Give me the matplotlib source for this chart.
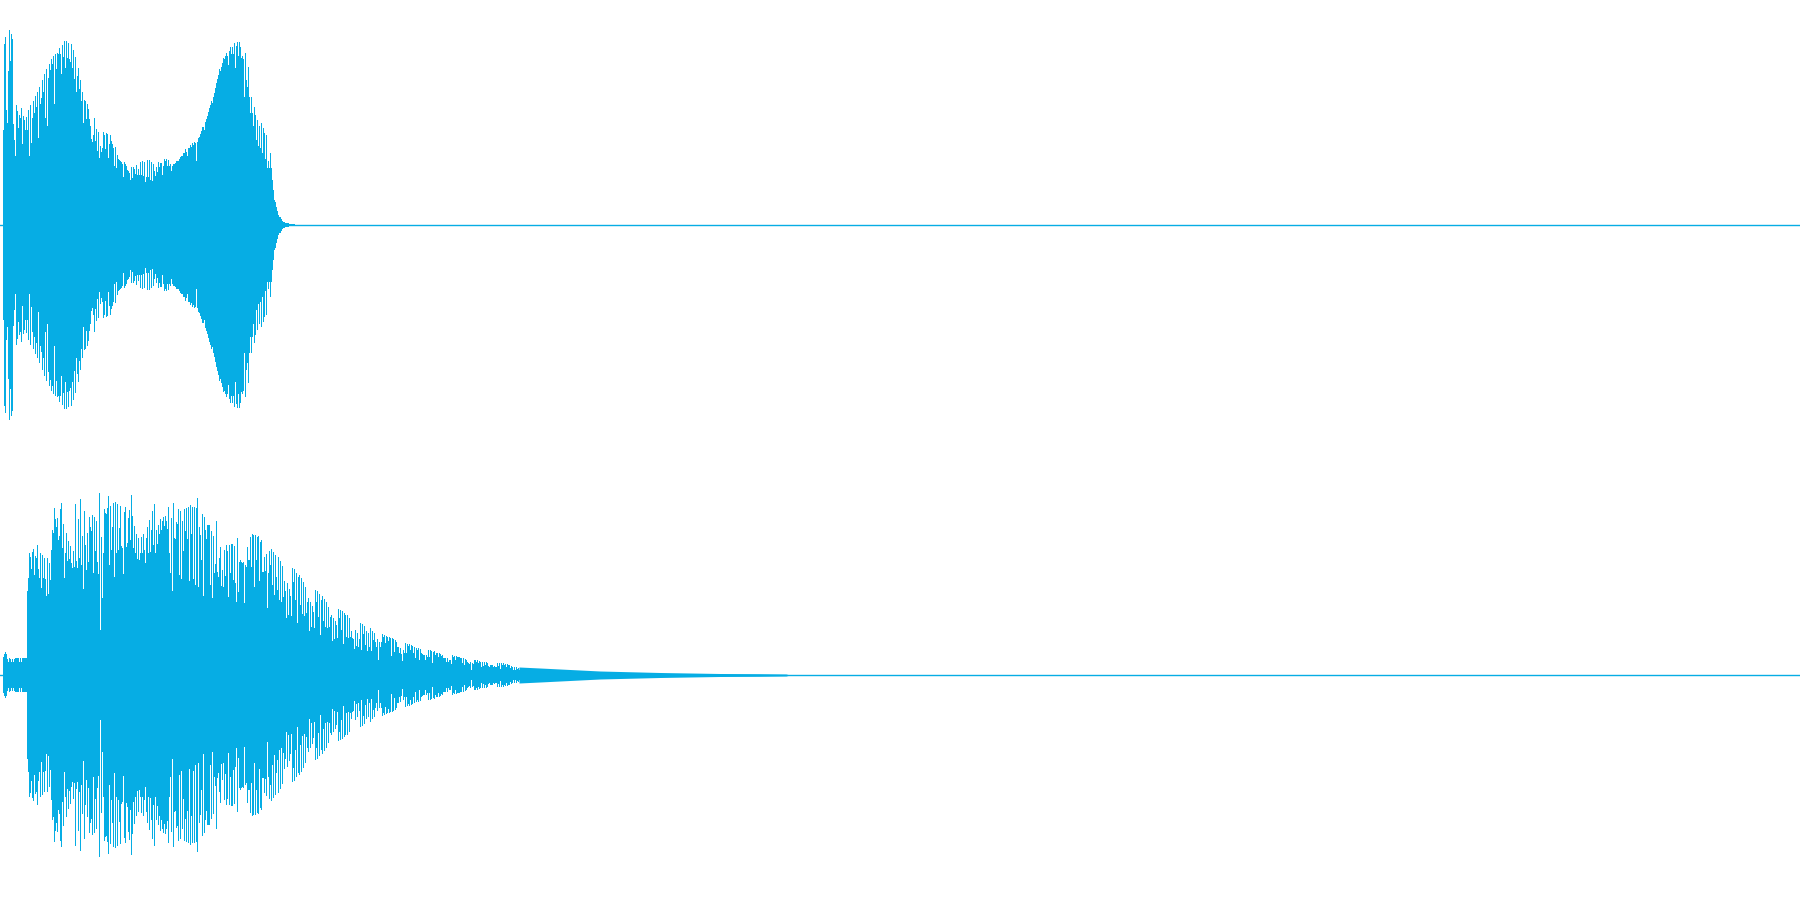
import numpy as np
import matplotlib
matplotlib.use("Agg")
import matplotlib.pyplot as plt

WAVE_COLOR = "#06ade4"

# ---- Channel 1 (left): per-column peak amplitude, starting at column 3 ----
ch1_start = 3
ch1_peaks = [
    95, 181, 188, 115, 102, 154, 195, 164, 191, 186,
    101, 85, 69, 120, 114, 97, 110, 107, 117, 81,
    109, 105, 95, 108, 95, 115, 69, 120, 82, 107,
    124, 112, 129, 118, 133, 87, 138, 121, 127, 145,
    133, 151, 107, 156, 99, 147, 161, 155, 166, 161,
    169, 121, 171, 156, 172, 171, 177, 171, 151, 180,
    168, 184, 157, 184, 167, 182, 166, 163, 181, 157,
    175, 146, 168, 133, 149, 157, 136, 145, 124, 133,
    102, 125, 124, 106, 121, 116,
    106, 99, 86, 83, 90, 107, 84, 96, 74, 93,
    67, 79, 73, 77, 93, 90, 76, 92, 91, 67,
    81, 90, 84, 81, 77, 59, 78, 57, 70, 66,
    65, 64, 63, 61, 48, 63, 61, 59, 55, 54,
    52, 45, 58, 47, 58, 56, 51, 60, 50, 56,
    50, 63, 50, 64, 49, 63, 43, 48, 65, 48,
    65, 45, 63, 44, 61, 54, 49, 58, 53, 63,
    58, 62, 62, 50, 59, 66, 64, 66, 59, 65,
    59, 61, 54, 59, 61, 61, 62, 64, 64, 64,
    66, 68, 69, 69, 72, 72, 76, 73, 69, 77,
    77, 80, 78, 82, 80, 83, 82, 64, 83, 87,
    88, 91, 94, 98, 98, 95, 103, 106, 109, 113,
    117, 120, 124, 122, 128, 132, 137, 142, 146, 150,
    156, 154, 158, 162, 167, 166, 169, 172, 169, 160,
    174, 178, 171, 178, 171, 182, 157, 179, 183, 169,
    183, 178, 167, 169, 166, 128, 172, 145, 138, 158,
    128, 112, 128, 112, 99, 118, 110, 85, 105, 79,
    99, 77, 102, 72, 97, 92, 66, 90, 57, 64,
    57, 72, 57, 45, 35, 25, 23, 18, 14, 10,
    8, 8, 6, 4, 3, 3, 2, 2, 2, 2,
    1, 1, 1, 1, 1, 1,
]

# ---- Channel 2 (right): pre-attack, body, then decaying tail ----
ch2_pre_start = 3
ch2_pre_peaks = [18, 21, 23, 21, 16, 13, 17, 16, 13, 16, 13, 16,
                 17, 17, 17, 17, 13, 17, 13, 17, 17, 17, 17, 17]

ch2_body_start = 27
ch2_body_peaks = [
    84, 97, 122, 118, 106, 123, 126, 100, 119, 117, 130, 106, 97, 122, 87, 120, 97, 117, 96, 79,
    117, 81, 112, 95, 125, 145, 142, 167, 156, 148, 157, 135, 139, 166, 172, 127, 151, 97, 122, 142,
    114, 134, 116, 129, 112, 107, 124, 108, 171, 114, 107, 156, 117, 176, 110, 139, 86, 164, 130, 105,
    142, 113, 158, 148, 144, 160, 102, 158, 124, 154, 113, 101, 182, 45, 138, 77, 122, 166, 162, 161,
    167, 179, 110, 169, 125, 148, 172, 98, 173, 122, 171, 125, 147, 169, 129, 127, 101, 163, 168, 128,
    132, 157, 165, 135, 180, 159, 127, 149, 122, 141, 116, 137, 115, 122, 138, 122, 141, 125, 112, 137,
    148, 122, 155, 123, 145, 164, 130, 171, 122, 145, 131, 150, 141, 156, 145, 154, 158, 149, 159, 154,
    146, 168, 122, 102, 157, 84, 172, 137, 136, 153, 151, 166, 100, 164, 96, 154, 124, 166, 144, 167,
    136, 168, 94, 170, 141, 168, 96, 168, 90, 167, 177, 88, 148, 140, 115, 161, 79, 158, 145, 136,
    150, 150, 150, 90, 144, 77, 139, 102, 111, 154, 103, 98, 117, 128, 89, 105, 88, 125, 99, 130,
    124, 78, 130, 102, 131, 131, 95, 129, 92, 73, 137, 83, 113, 115, 113, 112, 113, 72, 110, 108,
    128, 115, 115, 138, 108, 141, 140, 88, 140, 115, 138, 139, 94, 133,
    135, 103, 103, 118, 104, 121, 67, 102, 124, 110, 126, 90, 123, 80, 120, 98, 85, 118, 75, 114,
    73, 109, 78, 94, 84, 57, 92, 60, 86, 79, 59, 107, 93, 106, 75, 102, 52, 98, 100, 70,
    97, 61, 93, 59, 88, 62, 73, 77, 44, 73, 48, 69, 63, 47, 85, 73, 84, 58, 81, 40,
    75, 79, 54, 76, 48, 73, 47, 68, 48, 58, 60, 34, 57, 36, 54, 50, 37, 66, 57, 65,
    45, 64, 31, 62, 60, 38, 60, 37, 57, 38, 44, 37, 36, 26, 45, 29, 42, 28, 36, 52,
    25, 51, 41, 49, 30, 44, 24, 42, 28, 47, 24, 44, 35, 42, 33, 28, 36, 15, 33, 28,
    33, 41, 38, 40, 32, 39, 38, 34, 38, 37, 19, 37, 36, 23, 35, 33, 28, 28, 22, 27,
    21, 14, 25, 22, 32, 22, 31, 29, 31, 25, 30, 29, 22, 28, 17, 27, 25, 27, 15, 26,
    22, 21, 20, 20, 15, 20, 18, 25, 18, 25, 24, 12, 23, 24, 20, 22, 22, 18, 22, 21,
    19, 20, 17, 17, 17, 13, 17, 13, 15, 15, 11, 20, 18, 19, 15, 19, 18, 18, 18, 17,
    17, 12, 17, 10, 16, 15, 13, 12, 11, 13, 5, 12, 11, 15, 15, 13, 15, 12, 14, 13,
    8, 13, 9, 13, 10, 13, 12, 9, 8, 10, 10, 10, 8, 9, 8, 8, 12, 9, 12, 6,
    12, 10, 12, 10, 11, 8, 11, 10, 10, 7, 9, 8, 5, 8, 5, 8, 6, 7, 5,
]

ch2_tail_x = [519, 540, 560, 580, 600, 620, 640, 660, 690, 720, 760, 786, 790]
ch2_tail_amp = [8, 7, 6, 5, 4, 3.5, 3, 2.5, 2, 1.5, 1.3, 1, 0]

TOTAL_COLS = 1800
HALF = 225


def draw_columns(ax, start, peaks):
    peaks = np.asarray(peaks, dtype=float)
    x = start + np.arange(len(peaks))
    ax.bar(x, 2 * peaks, bottom=-peaks, width=1.0, align="edge",
           color=WAVE_COLOR, linewidth=0, antialiased=False)


fig = plt.figure(figsize=(18, 9), dpi=100)
fig.patch.set_facecolor("white")

ax1 = fig.add_axes([0, 0.5, 1, 0.5])
ax2 = fig.add_axes([0, 0.0, 1, 0.5])

for ax in (ax1, ax2):
    ax.set_xlim(0, TOTAL_COLS)
    ax.set_ylim(-HALF, HALF)
    ax.axis("off")
    ax.axhline(0, color=WAVE_COLOR, linewidth=1.0)

draw_columns(ax1, ch1_start, ch1_peaks)
draw_columns(ax2, ch2_pre_start, ch2_pre_peaks)
draw_columns(ax2, ch2_body_start, ch2_body_peaks)
tail_amp = np.asarray(ch2_tail_amp, dtype=float)
ax2.fill_between(ch2_tail_x, -tail_amp, tail_amp, color=WAVE_COLOR, linewidth=0)

fig.savefig("out.png", dpi=100, facecolor="white")
